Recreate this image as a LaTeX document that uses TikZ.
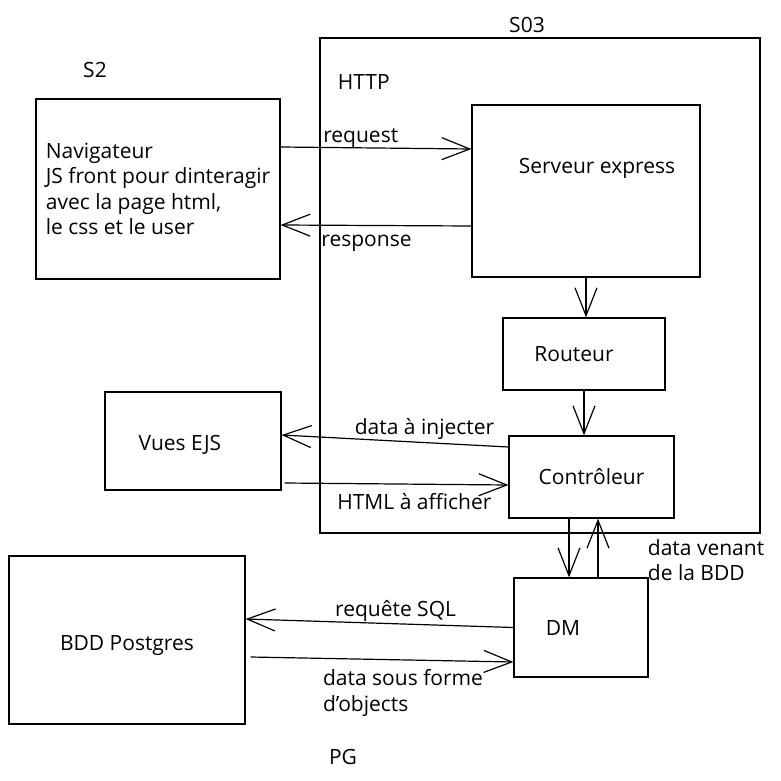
\documentclass[tikz,border=0pt]{standalone}
\usepackage{fontspec}
\setmainfont{Open Sans}
\usetikzlibrary{arrows.meta}
\usetikzlibrary{positioning}

\begin{document}
\begin{tikzpicture}[x=1pt, y=-1pt, line width=1.2pt,
		font=\fontsize{21}{25.5}\selectfont,
		box/.style={draw, inner sep=6pt},
		arr/.style={-{Straight Barb[length=28pt, width=22pt]}},
		lbl/.style={inner sep=2pt}]
		\useasboundingbox (0,0) rectangle (781,781);
		% the S03 frame and its labels
		\node[box, minimum width=440pt, minimum height=495pt] (s03) at (540,285.5) {};
		\node[above=1pt of s03.north, xshift=-13pt] (s03lbl) {S03};
		\node[anchor=west] (http) at (334,82) {HTTP};
		\node (s2) at (95,70) {S2};
		\node (pg) at (343,757) {PG};
		% boxes
		\node[box, align=left, minimum width=244pt, minimum height=180pt] (nav) at (158,189)
			{Navigateur\\JS front pour dinteragir\\avec la page html,\\le css et le user};
		\node[box, minimum width=228pt, minimum height=172pt,
			label={[xshift=11pt, yshift=23pt]center:Serveur express}] (srv) at (586,191) {};
		\node[box, minimum width=162pt, minimum height=72pt,
			label={[xshift=-10pt]center:Routeur}] (rtr) at (584,354) {};
		\node[box, minimum width=165pt, minimum height=82pt] (ctl) at (591.5,477) {Contrôleur};
		\node[box, minimum width=176pt, minimum height=98pt,
			label={[xshift=-13pt, yshift=-4pt]center:Vues EJS}] (ejs) at (193,441) {};
		\node[box, minimum width=134pt, minimum height=99pt,
			label={[xshift=-18pt]center:DM}] (dm) at (581,627.5) {};
		\node[box, minimum width=236pt, minimum height=168pt,
			label={[yshift=-6pt]center:BDD Postgres}] (bdd) at (127,640) {};
		% connectors
		\draw[arr] ([yshift=42pt]nav.east) -- ([yshift=42pt]srv.west)
			node[lbl, pos=0.42, above, inner sep=0pt] {request};
		\draw[arr] ([yshift=-35pt]srv.west) -- ([yshift=-36pt]nav.east)
			node[lbl, pos=0.55, below=7pt] {response};
		\draw[arr] (srv.south) -- (srv.south |- rtr.north);
		\draw[arr] (rtr.south) -- (rtr.south |- ctl.north);
		\draw[arr] ([yshift=30pt]ctl.west) -- ([yshift=6pt]ejs.east)
			node[lbl, pos=0.37, above] {data à injecter};
		\draw[arr] ([xshift=3pt, yshift=-42pt]ejs.east) -- ([yshift=-8pt]ctl.west)
			node[lbl, pos=0.58, below=7pt] {HTML à afficher};
		\draw[arr] ([xshift=-22.5pt]ctl.south) -- ([xshift=-12pt]dm.north);
		\draw[arr] ([xshift=17pt]dm.north) -- ([xshift=6.5pt]ctl.south);
		\node[align=left, anchor=west] (venant) at (644,560) {data venant\\de la BDD};
		\draw[arr] (dm.west) -- ([yshift=21pt]bdd.east)
			node[lbl, pos=0.44, above] {requête SQL};
		\draw[arr] ([xshift=5pt, yshift=-17pt]bdd.east) -- ([yshift=-34.5pt]dm.west)
			node[lbl, pos=0.58, below=7pt, align=left] {data sous forme\\d'objects};
	\end{tikzpicture}
\end{document}
